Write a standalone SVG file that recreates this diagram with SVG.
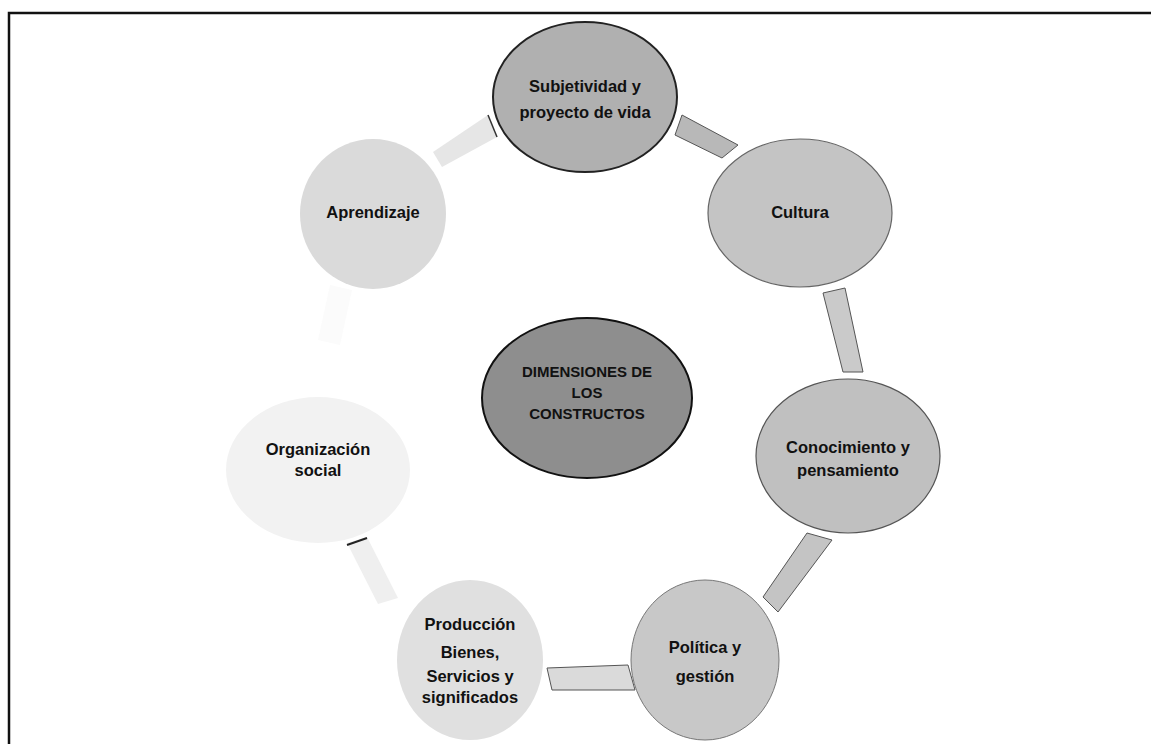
<svg xmlns="http://www.w3.org/2000/svg" width="1151" height="744" viewBox="0 0 1151 744">
<style>
  .lbl { font-family: "Liberation Sans", Arial, sans-serif; font-weight: bold; font-size: 16.5px; fill: #111; text-anchor: middle; }
  .ctr { font-family: "Liberation Sans", Arial, sans-serif; font-weight: bold; font-size: 15px; fill: #111; text-anchor: middle; }
  .band { stroke: #555; stroke-width: 1; }
</style>
<rect width="1151" height="744" fill="#ffffff"/>
<path d="M9,744 L9,13 L1151,13" fill="none" stroke="#111" stroke-width="2.5"/>
<g id="connectors">
  <polygon class="band" points="682,115 738,145 722,158 675,135" fill="#b8b8b8"/>
  <polygon class="band" points="823,293 845,288 863,372 843,372" fill="#cacaca"/>
  <polygon class="band" points="807,533 832,540 778,612 763,597" fill="#c4c4c4"/>
  <polygon class="band" points="547,668 628,665 635,690 552,690" fill="#dadada" stroke="#777"/>
  <polygon points="347,543 367,537 398,598 378,604" fill="#efefef"/>
  <line x1="347" y1="545" x2="367" y2="538" stroke="#222" stroke-width="2"/>
  <polygon points="330,285 352,290 340,345 318,340" fill="#fbfbfb"/>
  <polygon points="488,115 497,137 442,167 433,152" fill="#e6e6e6"/>
  <line x1="488" y1="115" x2="497" y2="137" stroke="#333" stroke-width="1.5"/>
</g>
<g id="node-subjetividad">
  <ellipse cx="585" cy="97" rx="92" ry="75" fill="#b0b0b0" stroke="#222" stroke-width="2"/>
  <text class="lbl" x="585" y="92">Subjetividad y</text>
  <text class="lbl" x="585" y="118">proyecto de vida</text>
</g>
<g id="node-cultura">
  <ellipse cx="800" cy="213" rx="92" ry="74" fill="#c4c4c4" stroke="#666" stroke-width="1.2"/>
  <text class="lbl" x="800" y="218">Cultura</text>
</g>
<g id="node-conocimiento">
  <ellipse cx="848" cy="456" rx="92" ry="77" fill="#c0c0c0" stroke="#555" stroke-width="1.2"/>
  <text class="lbl" x="848" y="453">Conocimiento y</text>
  <text class="lbl" x="848" y="476">pensamiento</text>
</g>
<g id="node-politica">
  <ellipse cx="705" cy="660" rx="74" ry="80" fill="#c8c8c8" stroke="#777" stroke-width="1"/>
  <text class="lbl" x="705" y="653">Política y</text>
  <text class="lbl" x="705" y="682">gestión</text>
</g>
<g id="node-produccion">
  <ellipse cx="470" cy="660" rx="73" ry="80" fill="#e0e0e0"/>
  <text class="lbl" x="470" y="630">Producción</text>
  <text class="lbl" x="470" y="658">Bienes,</text>
  <text class="lbl" x="470" y="682">Servicios y</text>
  <text class="lbl" x="470" y="703">significados</text>
</g>
<g id="node-organizacion">
  <ellipse cx="318" cy="470" rx="92" ry="73" fill="#f2f2f2"/>
  <text class="lbl" x="318" y="455">Organización</text>
  <text class="lbl" x="318" y="476">social</text>
</g>
<g id="node-aprendizaje">
  <ellipse cx="373" cy="214" rx="73" ry="75" fill="#dadada"/>
  <text class="lbl" x="373" y="218">Aprendizaje</text>
</g>
<g id="node-centro">
  <ellipse cx="587" cy="398" rx="105" ry="80" fill="#8e8e8e" stroke="#111" stroke-width="2"/>
  <text class="ctr" x="587" y="377">DIMENSIONES DE</text>
  <text class="ctr" x="587" y="398">LOS</text>
  <text class="ctr" x="587" y="419">CONSTRUCTOS</text>
</g>
</svg>
